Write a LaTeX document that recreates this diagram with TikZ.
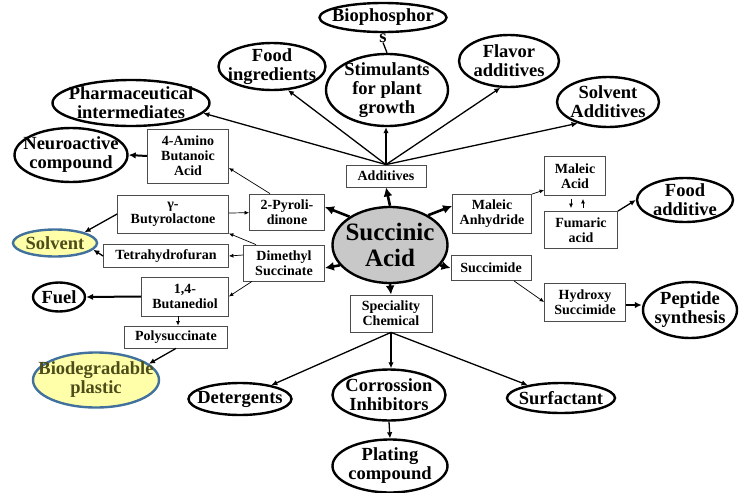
\documentclass[tikz,border=0pt]{standalone}
\usepackage{fontspec}
\setmainfont{Liberation Serif}
\usetikzlibrary{shapes.geometric}
\usetikzlibrary{arrows.meta}
\definecolor{hubgray}{HTML}{C8C8C8}
\definecolor{ecofill}{HTML}{FFFFAA}
\definecolor{ecorim}{HTML}{41719C}
\definecolor{ecotxt}{HTML}{4D4D1A}
\tikzset{
	prod/.style={ellipse, draw, line width=2.4pt, inner sep=0pt},
	prodtext/.style={inner sep=0pt, align=center, font=\fontsize{18.5}{19}\selectfont\bfseries},
	eco/.style={prod, fill=ecofill, draw=ecorim},
	ecotext/.style={prodtext, text=ecotxt},
	hub/.style={prod, fill=hubgray},
	hubtext/.style={inner sep=0pt, align=center, font=\fontsize{25}{26}\selectfont\bfseries},
	chem/.style={draw=black!70, line width=0.8pt, inner sep=0pt, align=center, font=\fontsize{14}{15}\selectfont\bfseries},
	thinarr/.style={line width=0.7pt, -{Latex[length=4.5pt,width=4pt]}},
	midarr/.style={line width=1.3pt, -{Latex[length=6pt,width=5.5pt]}},
	boldarr/.style={line width=2pt, -{Latex[length=7pt,width=6.5pt]}},
	hubarr/.style={line width=2.6pt, -{Latex[length=9pt,width=9pt]}}
}
\newcommand{\prodoval}[7][prod] % style, name, x, y, width, height, text (1pt = 1px)
{
	\node[#1, minimum width=#5pt, minimum height=#6pt, label={[#1text]center:#7}] (#2) at (#3,#4) {};
}

\begin{document}
\begin{tikzpicture}[x=1pt, y=-1pt]
	\useasboundingbox (0,0) rectangle (748,493);

	% centre
	\prodoval[hub]{sa}{390}{245}{115}{76}{Succinic\\Acid}

	% top: additives and their uses
	\node[chem, minimum width=80pt, minimum height=22pt] (add) at (386,176) {Additives};
	\node[prod, minimum width=127pt, minimum height=29pt, label={[prodtext]center:Biophosphor}, label={[prodtext, name=bios]below:s}] (bio) at (383,17.5) {};
	\prodoval{stim}{387}{90}{122}{72}{Stimulants\\for plant\\growth}
	\prodoval{food}{272}{66.5}{107}{47}{Food\\ingredients}
	\prodoval{pharm}{131}{103}{157}{46}{Pharmaceutical\\intermediates}
	\prodoval{flav}{509}{61}{100}{52}{Flavor\\additives}
	\prodoval{sadd}{608}{102}{102}{50}{Solvent\\Additives}

	% left: derivatives
	\node[chem, minimum width=81pt, minimum height=54pt] (amino) at (188,156) {4-Amino\\Butanoic\\Acid};
	\node[chem, minimum width=75pt, minimum height=36pt] (pyro) at (287,212) {2-Pyroli-\\dinone};
	\node[chem, minimum width=111pt, minimum height=38pt] (butyro) at (173,214) {γ-\\Butyrolactone};
	\node[chem, minimum width=125pt, minimum height=23pt] (thf) at (166,256) {Tetrahydrofuran};
	\node[chem, minimum width=81pt, minimum height=36pt] (dms) at (284,263) {Dimethyl\\Succinate};
	\node[chem, minimum width=87pt, minimum height=39pt] (bdo) at (185,296.5) {1,4-\\Butanediol};
	\node[chem, minimum width=103pt, minimum height=22pt] (poly) at (176,337) {Polysuccinate};
	\prodoval{neuro}{71}{155}{113}{54}{Neuroactive\\compound}
	\prodoval[eco]{solv}{55}{243}{84}{27}{Solvent}
	\prodoval{fuel}{59}{297}{52}{29}{Fuel}
	\prodoval[eco]{biodeg}{96}{380}{126}{55}{Biodegradable\\plastic}

	% right: anhydride and imide routes
	\node[chem, minimum width=79pt, minimum height=39pt] (manh) at (492,214) {Maleic\\Anhydride};
	\node[chem, minimum width=61pt, minimum height=39pt] (malacid) at (575,176) {Maleic\\Acid};
	\node[chem, minimum width=73pt, minimum height=37pt] (fum) at (581,230) {Fumaric\\acid};
	\node[chem, minimum width=80pt, minimum height=25pt] (succ) at (491,268) {Succimide};
	\node[chem, minimum width=81pt, minimum height=38pt] (hyd) at (585,302) {Hydroxy\\Succimide};
	\prodoval{foodadd}{685}{200}{96}{44}{Food\\additive}
	\prodoval{pep}{690}{310}{94}{56}{Peptide\\synthesis}

	% bottom: speciality chemicals
	\node[chem, minimum width=82pt, minimum height=37pt] (spec) at (391,313.5) {Speciality\\Chemical};
	\prodoval{det}{240}{399}{103}{32}{Detergents}
	\prodoval{corr}{389}{395}{113}{51}{Corrossion\\Inhibitors}
	\prodoval{plat}{390}{466}{115}{53}{Plating\\compound}
	\prodoval{surf}{561}{398}{108}{30}{Surfactant}

	% arrows out of the centre
	\draw[hubarr] (sa.north) -- (add.south);
	\draw[hubarr] (sa.145) -- ([yshift=5pt]pyro.east);
	\draw[hubarr] (sa.202) -- ([yshift=-5pt]dms.east);
	\draw[hubarr] (sa.38) -- ([yshift=8pt]manh.west);
	\draw[hubarr] (sa.-22) -- (succ.west);
	\draw[hubarr] (sa.south) -- (spec.north);

	% additives fan
	\draw[midarr] (add.north) -- (pharm.-8);
	\draw[midarr] (add.north) -- (food.-56);
	\draw[midarr] (add.north) -- (add.north |- stim.south);
	\draw[midarr] (add.north) -- (flav.252);
	\draw[midarr] (add.north) -- (sadd.215);
	\draw[line width=1.3pt] (stim.north) -- (bios.south);

	% left side
	\draw[boldarr] (amino.west) -- (neuro.east);
	\draw[thinarr] ([xshift=-17pt]pyro.north) -- ([yshift=-12pt]amino.east);
	\draw[thinarr] (butyro) -- (pyro);
	\draw[thinarr] ([xshift=-28pt]dms.north) -- (butyro.south east);
	\draw[thinarr] ([yshift=8pt]dms.west) -- (thf.east);
	\draw[thinarr] ([xshift=-32pt]dms.south) -- (bdo.east);
	\draw[midarr] (butyro.west) -- (solv.20);
	\draw[midarr] (thf.west) -- (solv.-10);
	\draw[boldarr] (bdo.west) -- (fuel.east);
	\draw[thinarr] ([xshift=-7pt]bdo.south) -- ([xshift=-7pt]bdo.south |- poly.north);
	\draw[midarr] (poly.south) -- (biodeg.17);

	% right side
	\draw[thinarr] (manh.north east) -- ([yshift=-14pt]malacid.west);
	\draw[thinarr, shorten <=3pt, shorten >=3pt] ([xshift=-4pt]malacid.south) -- ([xshift=-4pt]malacid.south |- fum.north);
	\draw[thinarr, shorten <=3pt, shorten >=3pt] ([xshift=8pt]malacid.south |- fum.north) -- ([xshift=8pt]malacid.south);
	\draw[midarr] (fum.north east) -- (foodadd.west);
	\draw[thinarr] ([xshift=23pt]succ.south) -- (hyd.west);
	\draw[boldarr] ([yshift=-3pt]hyd.east) -- ([yshift=-3pt]hyd.east -| pep.west);

	% bottom fan
	\draw[midarr] (spec.south) -- (det);
	\draw[midarr] (spec.south) -- (spec.south |- corr.north);
	\draw[midarr] (spec.south) -- (surf);
	\draw[midarr] (corr.south) -- (plat.north);
\end{tikzpicture}
\end{document}
